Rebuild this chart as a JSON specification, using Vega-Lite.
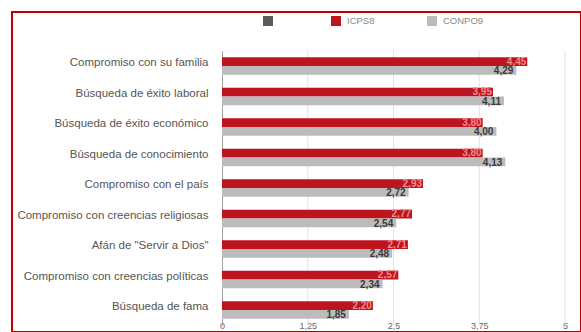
{
  "$schema": "https://vega.github.io/schema/vega-lite/v6.json",
  "autosize": "none",
  "padding": {"left": 12, "top": 12, "right": 0, "bottom": 0},
  "width": 569,
  "height": 320,
  "background": "white",
  "config": {
    "view": {"stroke": "#c00000", "strokeWidth": 2},
    "font": "Liberation Sans",
    "locale": {"number": {"decimal": ",", "thousands": ".", "grouping": [3], "currency": ["", " €"]}}
  },
  "datasets": {
    "valores": [
      {"item": "Compromiso con su familia", "serie": "ICPS8", "valor": 4.45},
      {"item": "Compromiso con su familia", "serie": "CONPO9", "valor": 4.29},
      {"item": "Búsqueda de éxito laboral", "serie": "ICPS8", "valor": 3.95},
      {"item": "Búsqueda de éxito laboral", "serie": "CONPO9", "valor": 4.11},
      {"item": "Búsqueda de éxito económico", "serie": "ICPS8", "valor": 3.80},
      {"item": "Búsqueda de éxito económico", "serie": "CONPO9", "valor": 4.00},
      {"item": "Búsqueda de conocimiento", "serie": "ICPS8", "valor": 3.80},
      {"item": "Búsqueda de conocimiento", "serie": "CONPO9", "valor": 4.13},
      {"item": "Compromiso con el país", "serie": "ICPS8", "valor": 2.93},
      {"item": "Compromiso con el país", "serie": "CONPO9", "valor": 2.72},
      {"item": "Compromiso con creencias religiosas", "serie": "ICPS8", "valor": 2.77},
      {"item": "Compromiso con creencias religiosas", "serie": "CONPO9", "valor": 2.54},
      {"item": "Afán de \"Servir a Dios\"", "serie": "ICPS8", "valor": 2.71},
      {"item": "Afán de \"Servir a Dios\"", "serie": "CONPO9", "valor": 2.48},
      {"item": "Compromiso con creencias políticas", "serie": "ICPS8", "valor": 2.57},
      {"item": "Compromiso con creencias políticas", "serie": "CONPO9", "valor": 2.34},
      {"item": "Búsqueda de fama", "serie": "ICPS8", "valor": 2.20},
      {"item": "Búsqueda de fama", "serie": "CONPO9", "valor": 1.85}
    ],
    "rejilla": [{"t": 1.25}, {"t": 2.5}, {"t": 3.75}, {"t": 5}]
  },
  "layer": [
    {
      "data": {"name": "rejilla"},
      "mark": {"type": "rule", "color": "#e2e2e2", "strokeWidth": 1},
      "encoding": {
        "x": {"field": "t", "type": "quantitative", "scale": {"domain": [-3.061, 5.233], "nice": false},
              "axis": {"orient": "bottom", "offset": -12, "values": [0, 1.25, 2.5, 3.75, 5], "format": ".3~g", "title": null, "domain": false, "ticks": false, "grid": false, "labelPadding": 1, "labelFontSize": 9, "labelColor": "#666", "labelBaseline": "top"}},
        "y": {"datum": "Compromiso con su familia", "type": "nominal", "bandPosition": 0,
              "scale": {"domain": ["Compromiso con su familia", "Búsqueda de éxito laboral", "Búsqueda de éxito económico", "Búsqueda de conocimiento", "Compromiso con el país", "Compromiso con creencias religiosas", "Afán de \"Servir a Dios\"", "Compromiso con creencias políticas", "Búsqueda de fama"], "range": [38.75, 313.25], "paddingInner": 0, "paddingOuter": 0},
              "axis": {"orient": "left", "offset": -210, "title": null, "ticks": false, "domain": true, "domainColor": "#a0a0a0", "labelPadding": 14, "labelFontSize": 11.5, "labelColor": "#555", "labelLimit": 400, "labelOffset": -3}},
        "y2": {"datum": "Búsqueda de fama", "bandPosition": 1}
      }
    },
    {
      "data": {"name": "valores"},
      "mark": {"type": "bar"},
      "encoding": {
        "y": {"field": "item", "type": "nominal",
              "scale": {"domain": ["Compromiso con su familia", "Búsqueda de éxito laboral", "Búsqueda de éxito económico", "Búsqueda de conocimiento", "Compromiso con el país", "Compromiso con creencias religiosas", "Afán de \"Servir a Dios\"", "Compromiso con creencias políticas", "Búsqueda de fama"], "range": [38.75, 313.25], "paddingInner": 0, "paddingOuter": 0},
              "axis": {"orient": "left", "offset": -210, "title": null, "ticks": false, "domain": true, "domainColor": "#a0a0a0", "labelPadding": 14, "labelFontSize": 11.5, "labelColor": "#555", "labelLimit": 400, "labelOffset": -3}},
        "yOffset": {"field": "serie", "type": "nominal", "scale": {"domain": ["ICPS8", "CONPO9"], "paddingInner": 0, "paddingOuter": 0.743}},
        "x": {"field": "valor", "type": "quantitative", "stack": null, "scale": {"domain": [-3.061, 5.233], "nice": false},
              "axis": {"orient": "bottom", "offset": -12, "values": [0, 1.25, 2.5, 3.75, 5], "format": ".3~g", "title": null, "domain": false, "ticks": false, "grid": false, "labelPadding": 1, "labelFontSize": 9, "labelColor": "#666", "labelBaseline": "top"}},
        "color": {"field": "serie", "type": "nominal",
                  "scale": {"domain": [" ", "ICPS8", "CONPO9"], "range": ["#5a5a5a", "#bd1520", "#bcbcbc"]},
                  "legend": {"orient": "none", "legendX": 251, "legendY": 4, "direction": "horizontal", "title": null, "symbolType": "square", "symbolSize": 100, "symbolStrokeWidth": 0, "labelFontSize": 9.5, "labelColor": "#888", "labelOffset": 6, "columnPadding": 52, "padding": 0}}
      }
    },
    {
      "data": {"name": "valores"},
      "transform": [{"filter": "datum.serie == 'ICPS8'"}],
      "mark": {"type": "text", "align": "right", "baseline": "middle", "dx": -1, "fontSize": 10, "fontWeight": "bold", "color": "#f28b8b"},
      "encoding": {
        "y": {"field": "item", "type": "nominal"},
        "yOffset": {"field": "serie", "type": "nominal"},
        "x": {"field": "valor", "type": "quantitative", "stack": null},
        "text": {"field": "valor", "type": "quantitative", "format": ".2f"}
      }
    },
    {
      "data": {"name": "valores"},
      "transform": [{"filter": "datum.serie == 'CONPO9'"}],
      "mark": {"type": "text", "align": "right", "baseline": "middle", "dx": -3, "dy": 1, "fontSize": 10, "fontWeight": "bold", "color": "#3a3a3a"},
      "encoding": {
        "y": {"field": "item", "type": "nominal"},
        "yOffset": {"field": "serie", "type": "nominal"},
        "x": {"field": "valor", "type": "quantitative", "stack": null},
        "text": {"field": "valor", "type": "quantitative", "format": ".2f"}
      }
    }
  ]
}
